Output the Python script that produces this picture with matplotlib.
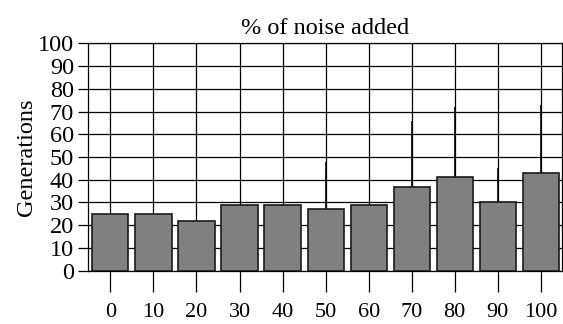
import matplotlib
matplotlib.use("Agg")
import matplotlib.pyplot as plt
import numpy as np

plt.rcParams['font.family'] = ['Liberation Serif', 'DejaVu Serif']

categories = ["0", "10", "20", "30", "40", "50", "60", "70", "80", "90", "100"]
values = [25, 25, 22, 29, 29, 27, 29, 37, 41, 30, 43]
err_top = [25, 25, 22, 29, 29, 48, 29, 66, 72, 45, 73]

fig = plt.figure(figsize=(5.63, 3.24), dpi=100)
ax = fig.add_axes([88/563, 1-270.7/324, (561.5-88)/563, (270.7-43.3)/324])

x = np.arange(len(categories))
upper = np.array(err_top) - np.array(values)
ax.bar(x, values, width=0.84, color="#808080", edgecolor="#1a1a1a", linewidth=1.2, zorder=3)
ax.errorbar(x, values, yerr=[np.zeros(len(x)), upper], fmt="none", ecolor="black",
            elinewidth=1.2, capsize=0, zorder=2.5)

ax.set_xlim(-0.52, 10.48)
ax.set_ylim(0, 100)
ax.set_yticks(np.arange(0, 101, 10))
ax.set_xticks(x)
ax.set_xticklabels(categories)
ax.set_axisbelow(True)
ax.grid(True, color="black", linewidth=0.9)
for s in ax.spines.values():
    s.set_color("black")
    s.set_linewidth(0.9)
ax.tick_params(axis="x", length=15, width=0.9, pad=8, labelsize=16)
ax.tick_params(axis="y", length=7.5, width=0.9, pad=2.5, labelsize=17.5)
ax.set_ylabel("Generations", fontsize=17.5, labelpad=0.5)
ax.set_title("% of noise added", fontsize=17.5, pad=7)

fig.savefig("out.png", dpi=100)
